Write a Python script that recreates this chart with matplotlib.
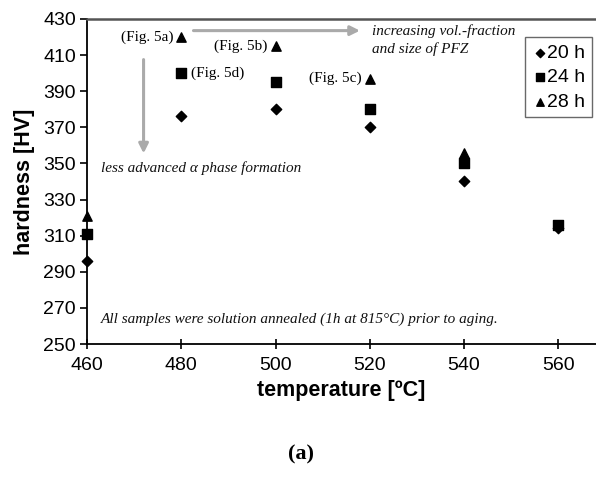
import matplotlib.pyplot as plt

temps = [460, 480, 500, 520, 540, 560]
hv_20h = [296, 376, 380, 370, 340, 314]
hv_24h = [311, 400, 395, 380, 350, 316]
temps_28h = [460, 480, 500, 520, 540]
hv_28h = [321, 420, 415, 397, 356]

sans = ['Liberation Sans', 'DejaVu Sans']
serif = ['Liberation Serif', 'DejaVu Serif']

fig = plt.figure(figsize=(5.96, 4.84), dpi=100)
ax = fig.add_axes([0.146, 0.289, 0.854, 0.672])

ax.scatter(temps, hv_20h, marker='D', s=28, color='black', label='20 h', clip_on=False, zorder=3)
ax.scatter(temps, hv_24h, marker='s', s=45, color='black', label='24 h', clip_on=False, zorder=3)
ax.scatter(temps_28h, hv_28h, marker='^', s=45, color='black', label='28 h', clip_on=False, zorder=3)

ax.set_xlim(460, 568)
ax.set_ylim(250, 430)
ax.set_xticks([460, 480, 500, 520, 540, 560])
ax.set_yticks(range(250, 431, 20))
ax.tick_params(axis='x', direction='inout', length=7, width=1.2, labelsize=14, pad=6)
ax.tick_params(axis='y', direction='out', length=5, width=1.2, labelsize=14, pad=3)
for lab in ax.get_xticklabels() + ax.get_yticklabels():
    lab.set_family(sans)

ax.spines['right'].set_visible(False)
ax.spines['left'].set_linewidth(1.3)
ax.spines['bottom'].set_linewidth(1.3)
ax.spines['top'].set_linewidth(1.8)
ax.spines['top'].set_color('#555555')

ax.set_xlabel('temperature [ºC]', fontsize=15.5, fontweight='bold', family=sans, labelpad=4)
ax.set_ylabel('hardness [HV]', fontsize=15.5, fontweight='bold', family=sans, labelpad=6)

leg = ax.legend(loc='upper right', bbox_to_anchor=(1.0, 0.955), frameon=True, fancybox=False,
                prop={'family': sans, 'size': 14}, handletextpad=-0.1, handlelength=0.9,
                borderpad=0.35, labelspacing=0.35, borderaxespad=0.2, markerscale=0.8)
leg.get_frame().set_edgecolor('#444444')
leg.get_frame().set_linewidth(1.0)

fs = 11
ax.text(478.3, 420, '(Fig. 5a)', ha='right', va='center', fontsize=fs, family=serif)
ax.text(498.3, 415, '(Fig. 5b)', ha='right', va='center', fontsize=fs, family=serif)
ax.text(518.3, 397, '(Fig. 5c)', ha='right', va='center', fontsize=fs, family=serif)
ax.text(482, 400, '(Fig. 5d)', ha='left', va='center', fontsize=fs, family=serif)

gray = '#aaaaaa'
ax.annotate('', xy=(518.5, 423.5), xytext=(482, 423.5),
            arrowprops=dict(arrowstyle='-|>', color=gray, lw=2.2, mutation_scale=14))
ax.annotate('', xy=(472, 354), xytext=(472, 409),
            arrowprops=dict(arrowstyle='-|>', color=gray, lw=2.2, mutation_scale=14))

ax.text(520.5, 423, 'increasing vol.-fraction', ha='left', va='center',
        fontsize=11, style='italic', family=serif, color='#111111')
ax.text(520.5, 413, 'and size of PFZ', ha='left', va='center',
        fontsize=11, style='italic', family=serif, color='#111111')
ax.text(463, 347.5, 'less advanced α phase formation', ha='left', va='center',
        fontsize=11, style='italic', family=serif, color='#111111')
ax.text(463, 264, 'All samples were solution annealed (1h at 815°C) prior to aging.', ha='left',
        va='center', fontsize=11, style='italic', family=serif, color='#111111')

fig.text(0.505, 0.06, '(a)', ha='center', va='center', fontsize=16, fontweight='bold', family=serif)

fig.savefig('out.png', dpi=100)
